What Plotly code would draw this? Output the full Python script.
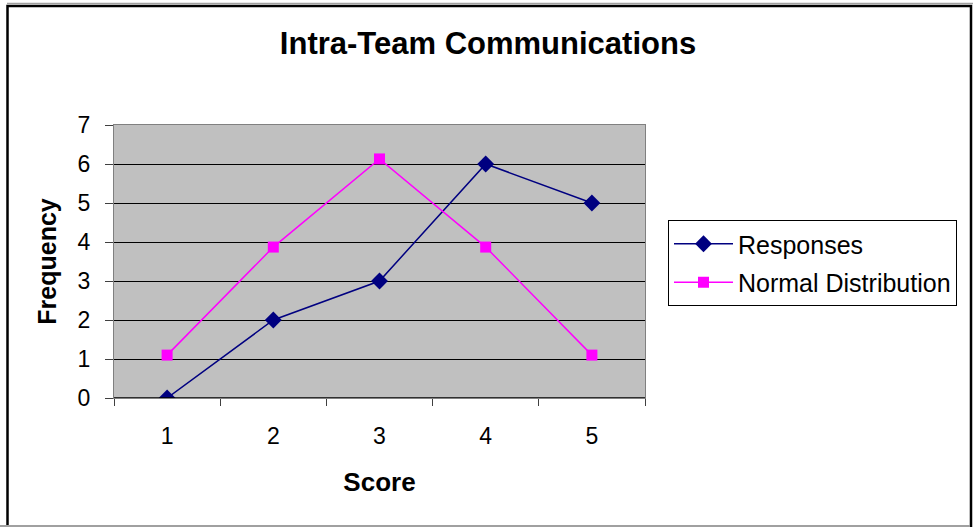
import plotly.graph_objects as go

scores = ["1", "2", "3", "4", "5"]
responses = [0, 2, 3, 6, 5]
normal_dist = [1.1, 3.87, 6.13, 3.87, 1.1]

FONT = "Arial, 'Liberation Sans', sans-serif"

fig = go.Figure()
fig.add_trace(go.Scatter(
    x=scores, y=responses, name="Responses", mode="lines+markers",
    line=dict(color="#000080", width=1.5),
    marker=dict(symbol="diamond", size=13, color="#000080"),
    legendgroup="a",
))
fig.add_trace(go.Scatter(
    x=scores, y=normal_dist, name="Normal Distribution", mode="lines+markers",
    line=dict(color="#FF00FF", width=1.5),
    marker=dict(symbol="square", size=11, color="#FF00FF"),
    legendgroup="b",
))

W, H = 973, 527
L, R, T, B = 114, 645, 125, 398
pw, ph = R - L, B - T

def px(x):
    return (x - L) / pw

def py(y):
    return (B - y) / ph

fig.update_layout(
    width=W, height=H,
    margin=dict(l=L, r=W - R, t=T, b=H - B, pad=0),
    paper_bgcolor="white",
    plot_bgcolor="#C0C0C0",
    font=dict(family=FONT, color="black", size=23),
    title=dict(text="<b>Intra-Team Communications</b>", x=488 / W, xref="container",
               xanchor="center", y=1 - 43 / H, yanchor="middle",
               font=dict(size=31, family=FONT, color="black")),
    showlegend=True,
    legend=dict(x=px(668), y=py(220), xanchor="left", yanchor="top",
                bordercolor="black", borderwidth=1, bgcolor="white",
                font=dict(size=25, family=FONT), tracegroupgap=3,
                itemwidth=59),
    xaxis=dict(type="category", range=[-0.5, 4.5], tickson="boundaries",
               ticks="outside", ticklen=7,
               tickcolor="#404040", showgrid=False, showline=True, linecolor="#808080",
               mirror=True, zeroline=False, ticklabelstandoff=17,
               title=dict(text="<b>Score</b>", font=dict(size=26, family=FONT), standoff=25),
               tickfont=dict(size=23, family=FONT, color="black")),
    yaxis=dict(range=[0, 7], dtick=1, ticks="outside", ticklen=8, tickcolor="#404040",
               showgrid=True, gridcolor="black", gridwidth=1, showline=True,
               linecolor="#808080", mirror=True, zeroline=False, ticklabelstandoff=10,
               title=dict(text="<b>Frequency</b>", font=dict(size=25, family=FONT), standoff=13),
               tickfont=dict(size=23, family=FONT, color="black")),
)

fig.add_shape(type="line", xref="paper", yref="y", x0=0, x1=1, y0=0, y1=0,
              line=dict(color="black", width=1.5))
# chart-area frame (bottom edge lies outside the picture)
fig.add_shape(type="rect", xref="paper", yref="paper",
              x0=px(7.5), x1=px(971), y0=py(540), y1=py(6),
              line=dict(color="black", width=2.5), layer="below")
fig.add_shape(type="line", xref="paper", yref="paper",
              x0=px(7), x1=px(973), y0=py(3.5), y1=py(3.5),
              line=dict(color="#A0A0A0", width=1.5), layer="below")
fig.add_shape(type="line", xref="paper", yref="paper",
              x0=px(0), x1=px(970), y0=py(526), y1=py(526),
              line=dict(color="#A0A0A0", width=2), layer="below")

fig.write_html("out.html", config={"displayModeBar": False})

with open("out.html", "r", encoding="utf-8") as f:
    html = f.read()
html = html.replace("<head>", "<head><style>html,body{margin:0;padding:0;overflow:hidden;}</style>", 1)
with open("out.html", "w", encoding="utf-8") as f:
    f.write(html)
